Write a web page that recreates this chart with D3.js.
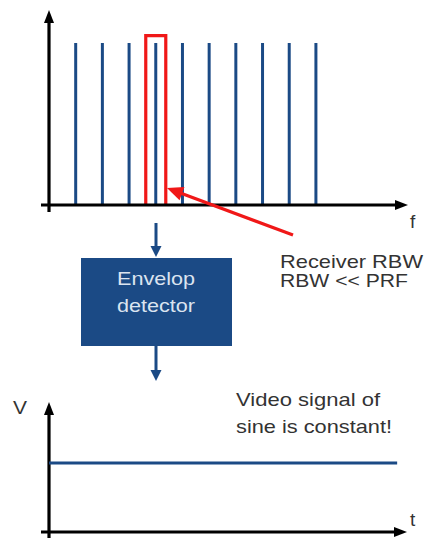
<!DOCTYPE html>
<html><head><meta charset="utf-8">
<script src="https://cdn.jsdelivr.net/npm/d3@7"></script>
<style>html,body{margin:0;padding:0;background:#fff}svg{display:block}text{font-family:"Liberation Sans",Arial,sans-serif}</style>
</head><body>
<script>
// ---- data ----
const harmonics = [1,2,3,4,5,6,7,8,9,10];          // spectral line index (multiples of PRF)
const amplitudes = [1,1,1,1,1,1,1,1,1,1];          // line amplitudes
const rbwCenter = 4;                                // harmonic inside receiver RBW
const rbwHalfWidth = 0.375;                         // in PRF units
const rbwHeight = 1.045;
const videoLevel = 0.53;                            // constant video signal
const videoSpan = [0, 13.08];
const labelsRBW = ["Receiver  RBW", "RBW << PRF"];
const labelsBox = ["Envelop", "detector"];
const labelsVideo = ["Video signal of", "sine is constant!"];

const W = 429, H = 538;
const navy = "#1b4a85";
const svg = d3.select("body").append("svg").attr("width", W).attr("height", H);

// ---- top spectrum ----
const x = d3.scaleLinear().domain([0, 13.45]).range([49, 408]);
const y = d3.scaleLinear().domain([0, 1]).range([205, 43]);

svg.selectAll("line.spec").data(harmonics).join("line")
  .attr("x1", d => x(d)).attr("x2", d => x(d))
  .attr("y1", y(0)).attr("y2", (d, i) => y(amplitudes[i]))
  .attr("stroke", navy).attr("stroke-width", 3);

svg.append("path")
  .attr("d", `M${x(rbwCenter - rbwHalfWidth)},${y(0)}V${y(rbwHeight)}H${x(rbwCenter + rbwHalfWidth)}V${y(0)}`)
  .attr("fill", "none").attr("stroke", "#f01818").attr("stroke-width", 3.2);

function axisArrow(x0, y0, x1, y1, color, w, hl, hw) {
  const dx = x1 - x0, dy = y1 - y0, L = Math.hypot(dx, dy), ux = dx / L, uy = dy / L;
  const bx = x1 - ux * hl, by = y1 - uy * hl;
  svg.append("line").attr("x1", x0).attr("y1", y0).attr("x2", bx + ux).attr("y2", by + uy)
    .attr("stroke", color).attr("stroke-width", w);
  svg.append("path").attr("d", `M${x1},${y1}L${bx - uy * hw / 2},${by + ux * hw / 2}L${bx + uy * hw / 2},${by - ux * hw / 2}Z`)
    .attr("fill", color);
}
axisArrow(x(0), 212, x(0), 10, "#000", 3.2, 13, 10);
axisArrow(41, y(0), x(13.45), y(0), "#000", 3.2, 13, 10);

axisArrow(293, 235, 167, 188, "#f01818", 3.2, 16, 14);

svg.append("text").attr("x", 410).attr("y", 228).attr("font-size", 19).attr("fill", "#333").text("f");

labelsRBW.forEach((t, i) => {
  svg.append("text").attr("x", 280).attr("y", 268 + i * 19).attr("font-size", 18.5).attr("fill", "#333")
    .attr("textLength", i === 0 ? 143 : 128).attr("lengthAdjust", "spacingAndGlyphs").text(t);
});

// ---- envelope detector block ----
axisArrow(156, 223, 156, 257, navy, 3, 11, 11);
svg.append("rect").attr("x", 81).attr("y", 258).attr("width", 151).attr("height", 88).attr("fill", navy);
labelsBox.forEach((t, i) => {
  svg.append("text").attr("x", 156).attr("y", 285 + i * 27).attr("font-size", 18.5).attr("fill", "#dbe4f0")
    .attr("text-anchor", "middle").attr("textLength", 78).attr("lengthAdjust", "spacingAndGlyphs").text(t);
});
axisArrow(156, 346, 156, 381, navy, 3, 11, 11);

// ---- bottom video signal ----
const xt = d3.scaleLinear().domain([0, 13.45]).range([49, 407]);
const yv = d3.scaleLinear().domain([0, 1]).range([532, 402]);
axisArrow(xt(0), 538, xt(0), 402, "#000", 3.2, 13, 10);
axisArrow(41, yv(0), 407, yv(0), "#000", 3.2, 13, 10);

svg.append("line").attr("x1", xt(videoSpan[0])).attr("x2", xt(videoSpan[1]))
  .attr("y1", yv(videoLevel)).attr("y2", yv(videoLevel))
  .attr("stroke", navy).attr("stroke-width", 3);

svg.append("text").attr("x", 13).attr("y", 414).attr("font-size", 19).attr("fill", "#333")
  .attr("textLength", 14).attr("lengthAdjust", "spacingAndGlyphs").text("V");
svg.append("text").attr("x", 410).attr("y", 526).attr("font-size", 19).attr("fill", "#333").text("t");

labelsVideo.forEach((t, i) => {
  svg.append("text").attr("x", 236).attr("y", 406 + i * 27).attr("font-size", 18.5).attr("fill", "#333")
    .attr("textLength", i === 0 ? 144 : 156).attr("lengthAdjust", "spacingAndGlyphs").text(t);
});
</script>
</body></html>
